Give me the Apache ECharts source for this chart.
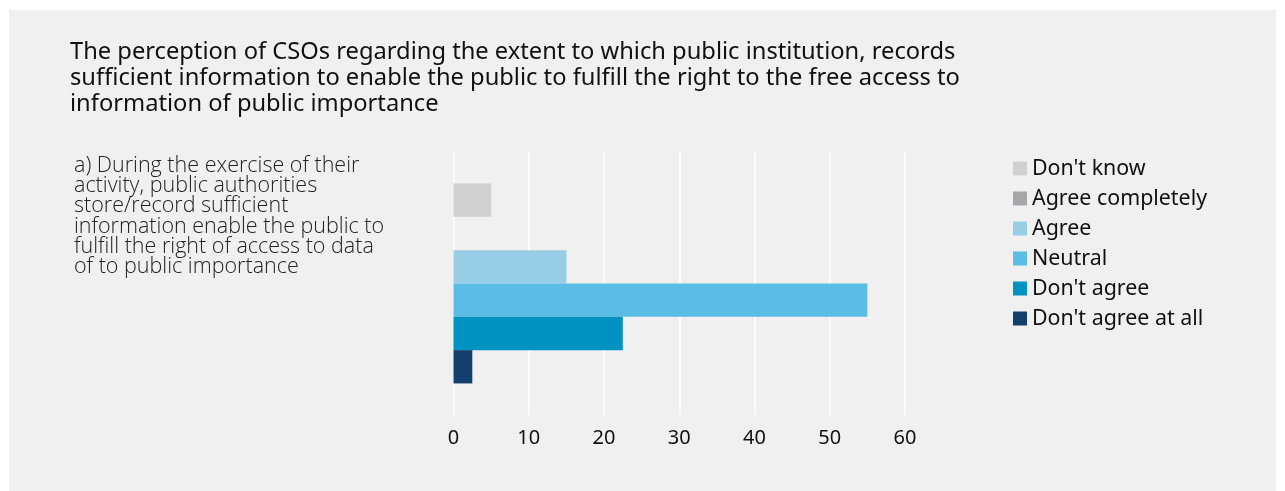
<!DOCTYPE html>
<html>
<head>
<meta charset="utf-8">
<script src="https://cdn.jsdelivr.net/npm/echarts@6/dist/echarts.min.js"></script>
<style>
  html, body { margin: 0; padding: 0; background: #ffffff; }
  #panel { position: absolute; left: 9px; top: 10px; width: 1267px; height: 481px; background: #f0f0f0; }
  #chart { position: absolute; left: 0; top: 0; width: 1285px; height: 491px; }
</style>
</head>
<body>
<div id="panel"></div>
<div id="chart"></div>
<script>
// Question asked of the civil society organisations
const categories = [
  'a) During the exercise of their\nactivity, public authorities\nstore/record sufficient\ninformation enable the public to\nfulfill the right of access to data\nof to public importance'
];

// Answer groups, listed top to bottom
const seriesNames = ["Don't know", 'Agree completely', 'Agree', 'Neutral', "Don't agree", "Don't agree at all"];
const seriesColors = ['#d0d0d0', '#a7a7aa', '#98cde6', '#5bbde5', '#0093c1', '#133f6e'];

// Share of responses (%) per answer group
const dontKnow = [5];
const agreeCompletely = [0];
const agree = [15];
const neutral = [55];
const dontAgree = [22.5];
const dontAgreeAtAll = [2.5];
const seriesValues = [dontKnow, agreeCompletely, agree, neutral, dontAgree, dontAgreeAtAll];

const xTicks = { min: 0, max: 60, interval: 10 };

const chart = echarts.init(document.getElementById('chart'));

chart.setOption({
  backgroundColor: 'transparent',
  animation: false,
  title: {
    text: 'The perception of CSOs regarding the extent to which public institution, records\nsufficient information to enable the public to fulfill the right to the free access to\ninformation of public importance',
    left: 65,
    top: 34,
    textStyle: {
      fontFamily: 'Noto Sans',
      fontSize: 23.7,
      fontWeight: 'normal',
      lineHeight: 26,
      color: '#111111'
    }
  },
  graphic: [{
    type: 'text',
    left: 74,
    top: 154.5,
    style: {
      text: categories[0],
      fontFamily: 'Open Sans',
      fontWeight: 300,
      fontSize: 21.5,
      lineHeight: 20.3,
      fill: '#222222'
    }
  }],
  legend: {
    orient: 'vertical',
    left: 1013,
    top: 158,
    padding: 0,
    itemWidth: 14,
    itemHeight: 14,
    itemGap: 9,
    icon: 'rect',
    data: seriesNames,
    textStyle: {
      fontFamily: 'Noto Sans',
      fontSize: 21.4,
      color: '#111111'
    }
  },
  grid: {
    left: 453.5,
    width: 451.5,
    top: 152,
    height: 263,
    containLabel: false
  },
  xAxis: {
    type: 'value',
    min: xTicks.min,
    max: xTicks.max,
    interval: xTicks.interval,
    axisLine: { show: false },
    axisTick: { show: false },
    axisLabel: {
      margin: 13,
      fontFamily: 'Noto Sans',
      fontSize: 20,
      color: '#111111'
    },
    splitLine: { show: true, lineStyle: { color: '#ffffff', width: 1.5 } }
  },
  yAxis: {
    type: 'category',
    data: categories,
    axisLine: { show: false },
    axisTick: { show: false },
    axisLabel: { show: false }
  },
  series: seriesNames.map((name, i) => ({
    name: name,
    type: 'bar',
    data: seriesValues[i],
    barGap: '0%',
    barCategoryGap: '24%',
    itemStyle: { color: seriesColors[i] }
  }))
});
</script>
</body>
</html>
